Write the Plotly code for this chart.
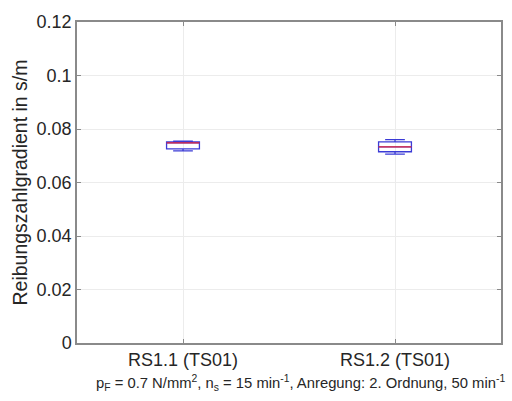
import plotly.graph_objects as go

categories = ["RS1.1 (TS01)", "RS1.2 (TS01)"]
lower_whisker = [0.0718, 0.0706]
q1 = [0.0726, 0.0715]
median = [0.0748, 0.0733]
q3 = [0.0752, 0.0752]
upper_whisker = [0.0755, 0.0760]
y_ticks = [0, 0.02, 0.04, 0.06, 0.08, 0.1, 0.12]
y_ticklabels = ["0", "0.02", "0.04", "0.06", "0.08", "0.1", "0.12"]
x_title = "p<sub>F</sub> = 0.7 N/mm<sup>2</sup>, n<sub>s</sub> = 15 min<sup>-1</sup>, Anregung: 2. Ordnung, 50 min<sup>-1</sup>"

xpos = [1, 2]
bw = 0.155

fig = go.Figure()
fig.add_trace(go.Box(
    x=xpos, q1=q1, median=median, q3=q3,
    lowerfence=lower_whisker, upperfence=upper_whisker,
    width=bw, whiskerwidth=0.6,
    fillcolor="rgba(0,0,0,0)",
    line=dict(color="#3b3bd6", width=1.3),
    showlegend=False, hoverinfo="skip",
))
# red median lines
mx, my = [], []
for x, m in zip(xpos, median):
    mx += [x - bw / 2, x + bw / 2, None]
    my += [m, m, None]
fig.add_trace(go.Scatter(x=mx, y=my, mode="lines",
                         line=dict(color="#e8283a", width=1.3),
                         showlegend=False, hoverinfo="skip"))

FONT = "Liberation Sans, Arial"
axis_common = dict(
    showline=True, linecolor="#8a8a8a", linewidth=1.5, mirror="ticks",
    ticks="inside", ticklen=4, tickcolor="#8a8a8a",
    showgrid=True, gridcolor="#ececec", gridwidth=1, zeroline=False,
    tickfont=dict(family=FONT, size=18, color="#262626"),
)
fig.update_layout(
    width=512, height=401,
    margin=dict(l=77, r=9, t=22, b=58),
    paper_bgcolor="white", plot_bgcolor="white",
    xaxis=dict(range=[0.5, 2.5], tickvals=xpos, ticktext=categories,
               **axis_common),
    yaxis=dict(range=[0, 0.12], tickvals=y_ticks, ticktext=y_ticklabels,
               title=dict(text="Reibungszahlgradient in s/m",
                          font=dict(family=FONT, size=19.5, color="#262626"),
                          standoff=4),
               **axis_common),
    annotations=[dict(text=x_title, xref="paper", yref="paper",
                      x=0.5, y=-0.125, xanchor="center", yanchor="middle",
                      xshift=11, showarrow=False,
                      font=dict(family=FONT, size=14.8, color="#262626"))],
)
fig.write_html("out.html")
